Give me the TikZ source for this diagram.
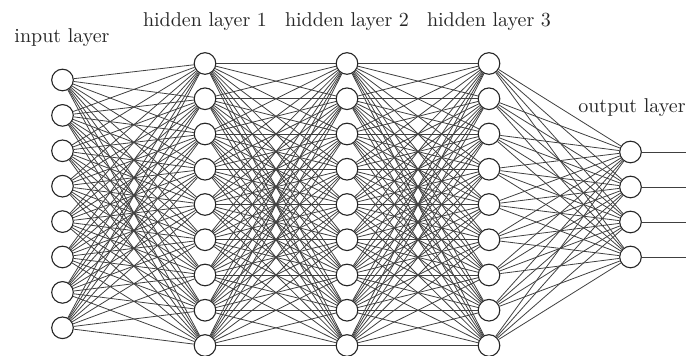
\documentclass[tikz,border=0pt]{standalone}
\begin{document}
\begin{tikzpicture}[x=0.5pt,y=-0.5pt,
  neuron/.style={circle,draw=black!85,fill=white,line width=0.55pt,minimum size=10.8pt,inner sep=0pt},
  edge/.style={draw=black!75,line width=0.4pt},
  lbl/.style={font=\fontsize{10}{12}\selectfont,inner sep=0pt,text=black!85}]
\useasboundingbox (0,0) rectangle (686,356);
% input layer
\foreach \k in {1,...,8}
  \node[neuron] (I-\k) at (62.5,{80+35.4*(\k-1)}) {};
% hidden layers
\foreach \l/\x in {1/205,2/347,3/489}
  \foreach \k in {1,...,9}
    \node[neuron] (H\l-\k) at (\x,{63.5+35.25*(\k-1)}) {};
% output layer
\foreach \k in {1,...,4}
  \node[neuron] (O-\k) at (630.5,{152+35*(\k-1)}) {};
% output ends
\foreach \k in {1,...,4}
  \coordinate (E-\k) at (686,{152+35*(\k-1)});
% edges
\foreach \a in {1,...,8}
  \foreach \b in {1,...,9}
    \draw[edge] (I-\a) -- (H1-\b);
\foreach \a in {1,...,9}
  \foreach \b in {1,...,9}
    {\draw[edge] (H1-\a) -- (H2-\b);
     \draw[edge] (H2-\a) -- (H3-\b);}
\foreach \a in {1,...,9}
  \foreach \b in {1,...,4}
    \draw[edge] (H3-\a) -- (O-\b);
\foreach \k in {1,...,4}
  \draw[edge] (O-\k) -- (E-\k);
% labels
\node[lbl] (L-in) at (62,38) {input layer};
\node[lbl] (L-h1) at (205,22) {hidden layer 1};
\node[lbl] (L-h2) at (347,22) {hidden layer 2};
\node[lbl] (L-h3) at (489,22) {hidden layer 3};
\node[lbl] (L-out) at (632,108) {output layer};
\end{tikzpicture}
\end{document}
